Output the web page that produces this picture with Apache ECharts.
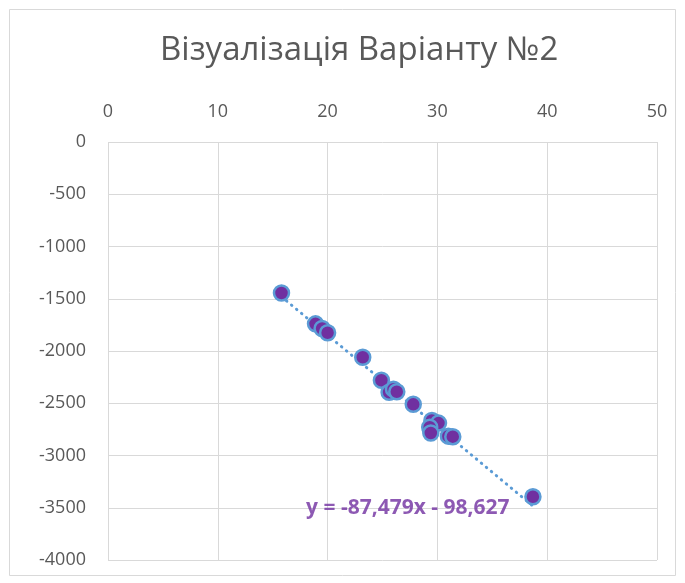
<!DOCTYPE html>
<html>
<head>
<meta charset="utf-8">
<script src="https://cdn.jsdelivr.net/npm/echarts@6/dist/echarts.min.js"></script>
<style>
  html, body { margin: 0; padding: 0; background: #fff; }
  #chart { width: 685px; height: 583px; }
</style>
</head>
<body>
<div id="chart"></div>
<script>
// ---- дані ----
const xValues = [15.8, 18.9, 19.5, 20.0, 23.2, 24.9, 25.6, 26.0, 26.3, 27.8, 29.5, 30.1, 29.3, 29.4, 31.0, 31.4, 38.7];
const yValues = [-1445, -1740, -1785, -1825, -2060, -2280, -2395, -2365, -2390, -2510, -2665, -2690, -2730, -2785, -2815, -2820, -3395];

// лінія тренду (з підпису)
const slope = -87.479;
const intercept = -98.627;
const trendLabel = 'y = -87,479x - 98,627';
const labelAt = [27.3, -3500];

const xTicks = { min: 0, max: 50, step: 10 };
const yTicks = { min: -4000, max: 0, step: 500 };

const points = xValues.map((x, i) => [x, yValues[i]]);
const xMin = Math.min(...xValues);
const xMax = Math.max(...xValues);
const trend = [[xMin, slope * xMin + intercept], [xMax, slope * xMax + intercept]];

const chart = echarts.init(document.getElementById('chart'));

const gridLine = { show: true, lineStyle: { color: '#d9d9d9', width: 1 } };

chart.setOption({
    animation: false,
    backgroundColor: '#fff',
    graphic: [{
        type: 'rect',
        shape: { x: 9.5, y: 9.5, width: 666, height: 566 },
        style: { fill: 'none', stroke: '#d9d9d9', lineWidth: 1 },
        silent: true
    }],
    title: {
        text: 'Візуалізація Варіанту №2',
        left: 155,
        top: 29,
        textStyle: { color: '#595959', fontSize: 33, fontWeight: 'normal', fontFamily: 'Open Sans' }
    },
    grid: { left: 108, right: 28, top: 142, bottom: 23, containLabel: false },
    xAxis: {
        type: 'value',
        position: 'top',
        min: xTicks.min, max: xTicks.max, interval: xTicks.step,
        axisLine: { show: false },
        axisTick: { show: false },
        axisLabel: { margin: 21, color: '#595959', fontSize: 18, fontFamily: 'Open Sans' },
        splitLine: gridLine
    },
    yAxis: {
        type: 'value',
        min: yTicks.min, max: yTicks.max, interval: yTicks.step,
        axisLine: { show: false },
        axisTick: { show: false },
        axisLabel: {
            margin: 22, color: '#595959', fontSize: 18, fontFamily: 'Open Sans',
            formatter: v => String(v)
        },
        splitLine: gridLine
    },
    series: [
        {
            type: 'line',
            data: trend,
            symbol: 'none',
            z: 2,
            lineStyle: { color: '#5b9bd5', width: 3, type: [0.5, 6], cap: 'round' }
        },
        {
            type: 'scatter',
            data: points,
            symbol: 'circle',
            symbolSize: 15,
            z: 3,
            itemStyle: { color: '#7030a0', borderColor: '#5b9bd5', borderWidth: 2.5, opacity: 1 }
        },
        {
            type: 'scatter',
            data: [labelAt],
            symbolSize: 0,
            z: 4,
            label: {
                show: true,
                position: 'inside',
                formatter: trendLabel,
                color: '#7030a0',
                fontSize: 21,
                fontWeight: 'bold',
                fontFamily: 'Open Sans'
            }
        }
    ]
});
</script>
</body>
</html>
